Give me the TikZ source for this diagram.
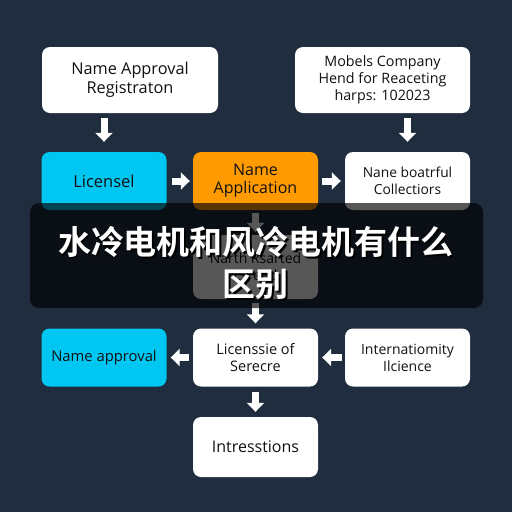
\documentclass[tikz,border=0pt]{standalone}
\usepackage{fontspec}
\setmainfont{Open Sans}
\newfontfamily\cjk{Noto Sans CJK SC Bold}
\usetikzlibrary{arrows.meta}
\definecolor{bgc}{HTML}{1F2D3E}
\definecolor{cyanbox}{HTML}{00C6F2}
\definecolor{orangebox}{HTML}{FF9A00}
\definecolor{txt}{HTML}{111111}
\tikzset{
  box/.style={draw=none, rounded corners=8pt, minimum width=125pt, minimum height=58pt, align=center, font=\fontsize{14}{17}\selectfont, text=txt, inner sep=2pt},
  wbox/.style={box, fill=white},
  cbox/.style={box, fill=cyanbox},
  obox/.style={box, fill=orangebox},
  flow/.style={white, line width=7pt, -{Triangle[width=17pt,length=9pt]}},
}
\begin{document}
\begin{tikzpicture}[x=1pt,y=-1pt]
\fill[bgc] (0,0) rectangle (512,512);
\useasboundingbox (0,0) rectangle (512,512);
% top row
\node[wbox, minimum width=176pt, minimum height=66pt, font=\fontsize{16.3}{18.5}\selectfont] (nar) at (130,80) {Name Approval\\Registraton};
\node[wbox, minimum width=175pt, minimum height=66pt, font=\fontsize{14.3}{17}\selectfont] (mob) at (382.5,80) {Mobels Company\\Hend for Reaceting\\harps: 102023};
% second row
\node[cbox, font=\fontsize{16.5}{18}\selectfont] (lic) at (104,181) {Licensel};
\node[obox, font=\fontsize{16}{18}\selectfont] (app) at (255.5,181) {Name\\Application};
\node[wbox, font=\fontsize{13.8}{16.5}\selectfont] (col) at (407.5,181) {Nane boatrful\\Collectiors};
% middle box
\node[wbox, minimum height=64pt] (nrs) at (255.5,267) {Narth Rsarted\\Lsreed};
% third row
\node[cbox, font=\fontsize{14.8}{17}\selectfont] (nap) at (104,357.5) {Name approval};
\node[wbox, font=\fontsize{14.5}{17}\selectfont] (ser) at (255.5,357.5) {Licenssie of\\Serecre};
\node[wbox, font=\fontsize{14}{17}\selectfont] (int) at (407.5,357.5) {Internatiomity\\Ilcience};
% bottom
\node[wbox, minimum height=60pt, font=\fontsize{16}{18}\selectfont] (itr) at (255.5,447) {Intresstions};
% arrows
\draw[flow, shorten <=5pt, shorten >=10pt] (nar.south -| lic.north) -- (lic.north);
\draw[flow, shorten <=5pt, shorten >=10pt] (mob.south -| col.north) -- (col.north);
\draw[flow, shorten <=5pt, shorten >=3pt] (lic.east) -- (app.west);
\draw[flow, shorten <=4pt, shorten >=4pt] (app.east) -- (col.west);
\draw[flow, shorten <=3pt, shorten >=3pt] (app.south) -- (nrs.north);
\draw[flow, shorten <=4pt, shorten >=5pt] (nrs.south) -- (ser.north);
\draw[flow, shorten <=4pt, shorten >=4pt] (ser.west) -- (nap.east);
\draw[flow, shorten <=3pt, shorten >=4pt] (int.west) -- (ser.east);
\draw[flow, shorten <=5pt, shorten >=5pt] (ser.south) -- (itr.north);
% overlay
\fill[black, opacity=0.66, rounded corners=9pt] (30,203) rectangle (483,308);
\foreach \dx/\dy/\c in {1.5/1.5/black, 0/0/white}{
  \node[text=\c, font=\cjk\fontsize{33}{42}\selectfont, align=center, inner sep=0pt] (ttl\c) at (256+\dx,263+\dy) {水冷电机和风冷电机有什么\\区别};
}
\end{tikzpicture}
\end{document}
